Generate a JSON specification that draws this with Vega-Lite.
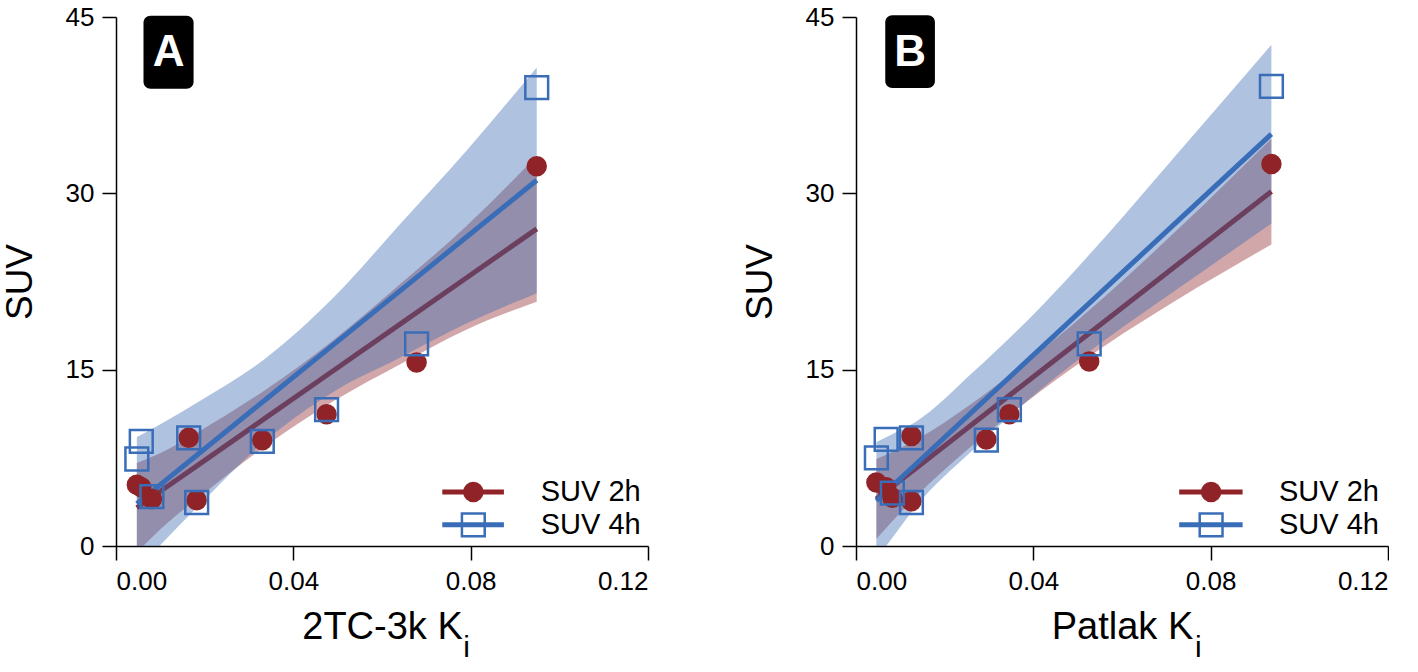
{
  "$schema": "https://vega.github.io/schema/vega-lite/v6.json",
  "background": "white",
  "padding": {"left": 1, "top": 4, "right": 0, "bottom": 6},
  "spacing": 208,
  "bounds": "flush",
  "config": {
    "view": {"stroke": null},
    "font": "Liberation Sans",
    "axis": {"grid": false, "domainColor": "#000", "domainWidth": 1.5, "tickColor": "#000", "tickWidth": 1.5, "tickSize": 14, "labelFontSize": 26, "labelColor": "#000", "labelFont": "Liberation Sans", "titleFont": "Liberation Sans", "titleFontWeight": "normal", "titleColor": "#000", "labelPadding": 8},
    "axisY": {"titlePadding": 26, "titleFontSize": 37},
    "axisX": {"titlePadding": 14, "titleFontSize": 38}
  },
  "datasets": {
    "points": [
      {"panel": "A", "series": "SUV 2h", "ki": 0.0047, "suv": 5.2},
      {"panel": "A", "series": "SUV 2h", "ki": 0.0057, "suv": 5.0},
      {"panel": "A", "series": "SUV 2h", "ki": 0.0081, "suv": 4.0},
      {"panel": "A", "series": "SUV 2h", "ki": 0.0164, "suv": 9.2},
      {"panel": "A", "series": "SUV 2h", "ki": 0.0182, "suv": 3.9},
      {"panel": "A", "series": "SUV 2h", "ki": 0.0330, "suv": 9.0},
      {"panel": "A", "series": "SUV 2h", "ki": 0.0475, "suv": 11.2},
      {"panel": "A", "series": "SUV 2h", "ki": 0.0678, "suv": 15.6},
      {"panel": "A", "series": "SUV 2h", "ki": 0.0949, "suv": 32.3},
      {"panel": "A", "series": "SUV 4h", "ki": 0.0047, "suv": 7.4},
      {"panel": "A", "series": "SUV 4h", "ki": 0.0057, "suv": 8.9},
      {"panel": "A", "series": "SUV 4h", "ki": 0.0081, "suv": 4.2},
      {"panel": "A", "series": "SUV 4h", "ki": 0.0164, "suv": 9.2},
      {"panel": "A", "series": "SUV 4h", "ki": 0.0182, "suv": 3.7},
      {"panel": "A", "series": "SUV 4h", "ki": 0.0330, "suv": 8.9},
      {"panel": "A", "series": "SUV 4h", "ki": 0.0475, "suv": 11.6},
      {"panel": "A", "series": "SUV 4h", "ki": 0.0678, "suv": 17.2},
      {"panel": "A", "series": "SUV 4h", "ki": 0.0949, "suv": 39.0},
      {"panel": "B", "series": "SUV 2h", "ki": 0.0046, "suv": 5.4},
      {"panel": "B", "series": "SUV 2h", "ki": 0.0068, "suv": 5.0},
      {"panel": "B", "series": "SUV 2h", "ki": 0.0082, "suv": 4.1},
      {"panel": "B", "series": "SUV 2h", "ki": 0.0125, "suv": 9.35},
      {"panel": "B", "series": "SUV 2h", "ki": 0.0125, "suv": 3.8},
      {"panel": "B", "series": "SUV 2h", "ki": 0.0294, "suv": 9.07},
      {"panel": "B", "series": "SUV 2h", "ki": 0.0346, "suv": 11.2},
      {"panel": "B", "series": "SUV 2h", "ki": 0.0526, "suv": 15.7},
      {"panel": "B", "series": "SUV 2h", "ki": 0.0937, "suv": 32.5},
      {"panel": "B", "series": "SUV 4h", "ki": 0.0046, "suv": 7.5},
      {"panel": "B", "series": "SUV 4h", "ki": 0.0068, "suv": 9.07},
      {"panel": "B", "series": "SUV 4h", "ki": 0.0082, "suv": 4.5},
      {"panel": "B", "series": "SUV 4h", "ki": 0.0125, "suv": 9.2},
      {"panel": "B", "series": "SUV 4h", "ki": 0.0125, "suv": 3.7},
      {"panel": "B", "series": "SUV 4h", "ki": 0.0294, "suv": 9.0},
      {"panel": "B", "series": "SUV 4h", "ki": 0.0346, "suv": 11.6},
      {"panel": "B", "series": "SUV 4h", "ki": 0.0526, "suv": 17.2},
      {"panel": "B", "series": "SUV 4h", "ki": 0.0937, "suv": 39.1}
    ],
    "fits": [
      {"panel": "A", "series": "SUV 2h", "ki": 0.0047, "fit": 3.26, "lo": -0.54, "hi": 7.06},
      {"panel": "A", "series": "SUV 2h", "ki": 0.0105, "fit": 4.79, "lo": 1.59, "hi": 7.99},
      {"panel": "A", "series": "SUV 2h", "ki": 0.0189, "fit": 6.99, "lo": 4.19, "hi": 9.79},
      {"panel": "A", "series": "SUV 2h", "ki": 0.0339, "fit": 10.94, "lo": 8.54, "hi": 13.34},
      {"panel": "A", "series": "SUV 2h", "ki": 0.049, "fit": 14.91, "lo": 12.31, "hi": 17.51},
      {"panel": "A", "series": "SUV 2h", "ki": 0.064, "fit": 18.85, "lo": 15.45, "hi": 22.25},
      {"panel": "A", "series": "SUV 2h", "ki": 0.079, "fit": 22.8, "lo": 18.4, "hi": 27.2},
      {"panel": "A", "series": "SUV 2h", "ki": 0.0949, "fit": 26.98, "lo": 20.78, "hi": 33.18},
      {"panel": "A", "series": "SUV 4h", "ki": 0.0047, "fit": 3.6, "lo": -2.07, "hi": 9.27},
      {"panel": "A", "series": "SUV 4h", "ki": 0.0105, "fit": 5.37, "lo": 0.27, "hi": 10.47},
      {"panel": "A", "series": "SUV 4h", "ki": 0.0189, "fit": 7.93, "lo": 3.53, "hi": 12.33},
      {"panel": "A", "series": "SUV 4h", "ki": 0.0339, "fit": 12.51, "lo": 9.01, "hi": 16.01},
      {"panel": "A", "series": "SUV 4h", "ki": 0.049, "fit": 17.11, "lo": 13.11, "hi": 21.11},
      {"panel": "A", "series": "SUV 4h", "ki": 0.064, "fit": 21.68, "lo": 16.01, "hi": 27.35},
      {"panel": "A", "series": "SUV 4h", "ki": 0.079, "fit": 26.26, "lo": 18.92, "hi": 33.6},
      {"panel": "A", "series": "SUV 4h", "ki": 0.0949, "fit": 31.11, "lo": 21.51, "hi": 40.71},
      {"panel": "B", "series": "SUV 2h", "ki": 0.0046, "fit": 4.0, "lo": 0.6, "hi": 7.4},
      {"panel": "B", "series": "SUV 2h", "ki": 0.0095, "fit": 5.44, "lo": 2.64, "hi": 8.24},
      {"panel": "B", "series": "SUV 2h", "ki": 0.0136, "fit": 6.64, "lo": 4.24, "hi": 9.04},
      {"panel": "B", "series": "SUV 2h", "ki": 0.0263, "fit": 10.37, "lo": 8.57, "hi": 12.17},
      {"panel": "B", "series": "SUV 2h", "ki": 0.0414, "fit": 14.8, "lo": 13.1, "hi": 16.5},
      {"panel": "B", "series": "SUV 2h", "ki": 0.0564, "fit": 19.2, "lo": 17.1, "hi": 21.3},
      {"panel": "B", "series": "SUV 2h", "ki": 0.0729, "fit": 24.05, "lo": 21.05, "hi": 27.05},
      {"panel": "B", "series": "SUV 2h", "ki": 0.0937, "fit": 30.15, "lo": 25.65, "hi": 34.65},
      {"panel": "B", "series": "SUV 4h", "ki": 0.0046, "fit": 3.85, "lo": -1.15, "hi": 8.85},
      {"panel": "B", "series": "SUV 4h", "ki": 0.0095, "fit": 5.57, "lo": 1.37, "hi": 9.77},
      {"panel": "B", "series": "SUV 4h", "ki": 0.0136, "fit": 7.0, "lo": 3.4, "hi": 10.6},
      {"panel": "B", "series": "SUV 4h", "ki": 0.0263, "fit": 11.45, "lo": 8.15, "hi": 14.75},
      {"panel": "B", "series": "SUV 4h", "ki": 0.0414, "fit": 16.73, "lo": 13.23, "hi": 20.23},
      {"panel": "B", "series": "SUV 4h", "ki": 0.0564, "fit": 21.98, "lo": 17.58, "hi": 26.38},
      {"panel": "B", "series": "SUV 4h", "ki": 0.0729, "fit": 27.76, "lo": 21.96, "hi": 33.56},
      {"panel": "B", "series": "SUV 4h", "ki": 0.0937, "fit": 35.04, "lo": 27.44, "hi": 42.64}
    ],
    "legend": [
      {"panel": "A", "series": "SUV 2h", "x1": 0.0736, "x2": 0.0875, "xm": 0.0806, "xt": 0.0958, "y": 4.6},
      {"panel": "A", "series": "SUV 4h", "x1": 0.0736, "x2": 0.0875, "xm": 0.0806, "xt": 0.0958, "y": 1.8},
      {"panel": "B", "series": "SUV 2h", "x1": 0.0729, "x2": 0.0872, "xm": 0.0801, "xt": 0.0954, "y": 4.6},
      {"panel": "B", "series": "SUV 4h", "x1": 0.0729, "x2": 0.0872, "xm": 0.0801, "xt": 0.0954, "y": 1.8}
    ],
    "tags": [
      {"panel": "A", "x1": 0.0062, "x2": 0.0175, "xc": 0.01185, "y1": 38.9, "y2": 45.1, "yc": 41.9, "xs": 0.0791, "ys": -9.45, "sub": "i"},
      {"panel": "B", "x1": 0.0066, "x2": 0.0178, "xc": 0.0122, "y1": 38.95, "y2": 45.15, "yc": 41.95, "xs": 0.0772, "ys": -9.45, "sub": "i"}
    ]
  },
  "hconcat": [
    {
      "width": 532, "height": 529,
      "layer": [
        {"data": {"name": "fits"}, "transform": [{"filter": "datum.panel === 'A' && datum.series === 'SUV 2h'"}],
         "mark": {"type": "area", "color": "#8f2327", "opacity": 0.4, "clip": true, "interpolate": "monotone"},
         "encoding": {
           "x": {"field": "ki", "type": "quantitative", "scale": {"domain": [0, 0.12], "nice": false}, "axis": {"values": [0, 0.04, 0.08, 0.12], "format": ".2f"}, "title": "2TC-3k K "},
           "y": {"field": "lo", "type": "quantitative", "scale": {"domain": [0, 45], "nice": false}, "axis": {"values": [0, 15, 30, 45]}, "title": "SUV"},
           "y2": {"field": "hi"}}},
        {"data": {"name": "fits"}, "transform": [{"filter": "datum.panel === 'A' && datum.series === 'SUV 2h'"}],
         "mark": {"type": "line", "color": "#8f2327", "strokeWidth": 5},
         "encoding": {
           "x": {"field": "ki", "type": "quantitative", "title": "2TC-3k K "},
           "y": {"field": "fit", "type": "quantitative", "title": "SUV"}}},
        {"data": {"name": "fits"}, "transform": [{"filter": "datum.panel === 'A' && datum.series === 'SUV 4h'"}],
         "mark": {"type": "area", "color": "#3769b4", "opacity": 0.4, "clip": true, "interpolate": "monotone"},
         "encoding": {
           "x": {"field": "ki", "type": "quantitative", "title": "2TC-3k K "},
           "y": {"field": "lo", "type": "quantitative", "title": "SUV"},
           "y2": {"field": "hi"}}},
        {"data": {"name": "fits"}, "transform": [{"filter": "datum.panel === 'A' && datum.series === 'SUV 4h'"}],
         "mark": {"type": "line", "color": "#3a6db7", "strokeWidth": 5},
         "encoding": {
           "x": {"field": "ki", "type": "quantitative", "title": "2TC-3k K "},
           "y": {"field": "fit", "type": "quantitative", "title": "SUV"}}},
        {"data": {"name": "points"}, "transform": [{"filter": "datum.panel === 'A' && datum.series === 'SUV 2h'"}],
         "mark": {"type": "point", "shape": "circle", "filled": true, "color": "#8f2327", "opacity": 1, "size": 420},
         "encoding": {
           "x": {"field": "ki", "type": "quantitative", "title": "2TC-3k K "},
           "y": {"field": "suv", "type": "quantitative", "title": "SUV"}}},
        {"data": {"name": "points"}, "transform": [{"filter": "datum.panel === 'A' && datum.series === 'SUV 4h'"}],
         "mark": {"type": "point", "shape": "square", "filled": false, "color": "#3a6db7", "opacity": 1, "size": 520, "strokeWidth": 2.5},
         "encoding": {
           "x": {"field": "ki", "type": "quantitative", "title": "2TC-3k K "},
           "y": {"field": "suv", "type": "quantitative", "title": "SUV"}}},
        {"data": {"name": "legend"}, "transform": [{"filter": "datum.panel === 'A'"}],
         "mark": {"type": "rule", "strokeWidth": 5},
         "encoding": {
           "x": {"field": "x1", "type": "quantitative", "title": "2TC-3k K "},
           "x2": {"field": "x2"},
           "y": {"field": "y", "type": "quantitative", "title": "SUV"},
           "color": {"field": "series", "type": "nominal", "scale": {"domain": ["SUV 2h", "SUV 4h"], "range": ["#8f2327", "#3a6db7"]}, "legend": null}}},
        {"data": {"name": "legend"}, "transform": [{"filter": "datum.panel === 'A' && datum.series === 'SUV 2h'"}],
         "mark": {"type": "point", "shape": "circle", "filled": true, "color": "#8f2327", "opacity": 1, "size": 420},
         "encoding": {
           "x": {"field": "xm", "type": "quantitative", "title": "2TC-3k K "},
           "y": {"field": "y", "type": "quantitative", "title": "SUV"}}},
        {"data": {"name": "legend"}, "transform": [{"filter": "datum.panel === 'A' && datum.series === 'SUV 4h'"}],
         "mark": {"type": "point", "shape": "square", "filled": false, "color": "#3a6db7", "opacity": 1, "size": 520, "strokeWidth": 2.5},
         "encoding": {
           "x": {"field": "xm", "type": "quantitative", "title": "2TC-3k K "},
           "y": {"field": "y", "type": "quantitative", "title": "SUV"}}},
        {"data": {"name": "legend"}, "transform": [{"filter": "datum.panel === 'A'"}],
         "mark": {"type": "text", "align": "left", "baseline": "middle", "fontSize": 29, "font": "Liberation Sans", "color": "#000"},
         "encoding": {
           "x": {"field": "xt", "type": "quantitative", "title": "2TC-3k K "},
           "y": {"field": "y", "type": "quantitative", "title": "SUV"},
           "text": {"field": "series"}}},
        {"data": {"name": "tags"}, "transform": [{"filter": "datum.panel === 'A'"}],
         "mark": {"type": "rect", "color": "#000", "cornerRadius": 7},
         "encoding": {
           "x": {"field": "x1", "type": "quantitative", "title": "2TC-3k K "},
           "x2": {"field": "x2"},
           "y": {"field": "y1", "type": "quantitative", "title": "SUV"},
           "y2": {"field": "y2"}}},
        {"data": {"name": "tags"}, "transform": [{"filter": "datum.panel === 'A'"}],
         "mark": {"type": "text", "align": "center", "baseline": "middle", "fontSize": 44, "fontWeight": "bold", "font": "Liberation Sans", "color": "#fff"},
         "encoding": {
           "x": {"field": "xc", "type": "quantitative", "title": "2TC-3k K "},
           "y": {"field": "yc", "type": "quantitative", "title": "SUV"},
           "text": {"field": "panel"}}},
        {"data": {"name": "tags"}, "transform": [{"filter": "datum.panel === 'A'"}],
         "mark": {"type": "text", "align": "center", "baseline": "alphabetic", "fontSize": 30, "font": "Liberation Sans", "color": "#000"},
         "encoding": {
           "x": {"field": "xs", "type": "quantitative", "title": "2TC-3k K "},
           "y": {"field": "ys", "type": "quantitative", "title": "SUV"},
           "text": {"field": "sub"}}}
      ]
    },
    {
      "width": 532, "height": 529,
      "layer": [
        {"data": {"name": "fits"}, "transform": [{"filter": "datum.panel === 'B' && datum.series === 'SUV 2h'"}],
         "mark": {"type": "area", "color": "#8f2327", "opacity": 0.4, "clip": true, "interpolate": "monotone"},
         "encoding": {
           "x": {"field": "ki", "type": "quantitative", "scale": {"domain": [0, 0.12], "nice": false}, "axis": {"values": [0, 0.04, 0.08, 0.12], "format": ".2f"}, "title": "Patlak K "},
           "y": {"field": "lo", "type": "quantitative", "scale": {"domain": [0, 45], "nice": false}, "axis": {"values": [0, 15, 30, 45]}, "title": "SUV"},
           "y2": {"field": "hi"}}},
        {"data": {"name": "fits"}, "transform": [{"filter": "datum.panel === 'B' && datum.series === 'SUV 2h'"}],
         "mark": {"type": "line", "color": "#8f2327", "strokeWidth": 5},
         "encoding": {
           "x": {"field": "ki", "type": "quantitative", "title": "Patlak K "},
           "y": {"field": "fit", "type": "quantitative", "title": "SUV"}}},
        {"data": {"name": "fits"}, "transform": [{"filter": "datum.panel === 'B' && datum.series === 'SUV 4h'"}],
         "mark": {"type": "area", "color": "#3769b4", "opacity": 0.4, "clip": true, "interpolate": "monotone"},
         "encoding": {
           "x": {"field": "ki", "type": "quantitative", "title": "Patlak K "},
           "y": {"field": "lo", "type": "quantitative", "title": "SUV"},
           "y2": {"field": "hi"}}},
        {"data": {"name": "fits"}, "transform": [{"filter": "datum.panel === 'B' && datum.series === 'SUV 4h'"}],
         "mark": {"type": "line", "color": "#3a6db7", "strokeWidth": 5},
         "encoding": {
           "x": {"field": "ki", "type": "quantitative", "title": "Patlak K "},
           "y": {"field": "fit", "type": "quantitative", "title": "SUV"}}},
        {"data": {"name": "points"}, "transform": [{"filter": "datum.panel === 'B' && datum.series === 'SUV 2h'"}],
         "mark": {"type": "point", "shape": "circle", "filled": true, "color": "#8f2327", "opacity": 1, "size": 420},
         "encoding": {
           "x": {"field": "ki", "type": "quantitative", "title": "Patlak K "},
           "y": {"field": "suv", "type": "quantitative", "title": "SUV"}}},
        {"data": {"name": "points"}, "transform": [{"filter": "datum.panel === 'B' && datum.series === 'SUV 4h'"}],
         "mark": {"type": "point", "shape": "square", "filled": false, "color": "#3a6db7", "opacity": 1, "size": 520, "strokeWidth": 2.5},
         "encoding": {
           "x": {"field": "ki", "type": "quantitative", "title": "Patlak K "},
           "y": {"field": "suv", "type": "quantitative", "title": "SUV"}}},
        {"data": {"name": "legend"}, "transform": [{"filter": "datum.panel === 'B'"}],
         "mark": {"type": "rule", "strokeWidth": 5},
         "encoding": {
           "x": {"field": "x1", "type": "quantitative", "title": "Patlak K "},
           "x2": {"field": "x2"},
           "y": {"field": "y", "type": "quantitative", "title": "SUV"},
           "color": {"field": "series", "type": "nominal", "scale": {"domain": ["SUV 2h", "SUV 4h"], "range": ["#8f2327", "#3a6db7"]}, "legend": null}}},
        {"data": {"name": "legend"}, "transform": [{"filter": "datum.panel === 'B' && datum.series === 'SUV 2h'"}],
         "mark": {"type": "point", "shape": "circle", "filled": true, "color": "#8f2327", "opacity": 1, "size": 420},
         "encoding": {
           "x": {"field": "xm", "type": "quantitative", "title": "Patlak K "},
           "y": {"field": "y", "type": "quantitative", "title": "SUV"}}},
        {"data": {"name": "legend"}, "transform": [{"filter": "datum.panel === 'B' && datum.series === 'SUV 4h'"}],
         "mark": {"type": "point", "shape": "square", "filled": false, "color": "#3a6db7", "opacity": 1, "size": 520, "strokeWidth": 2.5},
         "encoding": {
           "x": {"field": "xm", "type": "quantitative", "title": "Patlak K "},
           "y": {"field": "y", "type": "quantitative", "title": "SUV"}}},
        {"data": {"name": "legend"}, "transform": [{"filter": "datum.panel === 'B'"}],
         "mark": {"type": "text", "align": "left", "baseline": "middle", "fontSize": 29, "font": "Liberation Sans", "color": "#000"},
         "encoding": {
           "x": {"field": "xt", "type": "quantitative", "title": "Patlak K "},
           "y": {"field": "y", "type": "quantitative", "title": "SUV"},
           "text": {"field": "series"}}},
        {"data": {"name": "tags"}, "transform": [{"filter": "datum.panel === 'B'"}],
         "mark": {"type": "rect", "color": "#000", "cornerRadius": 7},
         "encoding": {
           "x": {"field": "x1", "type": "quantitative", "title": "Patlak K "},
           "x2": {"field": "x2"},
           "y": {"field": "y1", "type": "quantitative", "title": "SUV"},
           "y2": {"field": "y2"}}},
        {"data": {"name": "tags"}, "transform": [{"filter": "datum.panel === 'B'"}],
         "mark": {"type": "text", "align": "center", "baseline": "middle", "fontSize": 44, "fontWeight": "bold", "font": "Liberation Sans", "color": "#fff"},
         "encoding": {
           "x": {"field": "xc", "type": "quantitative", "title": "Patlak K "},
           "y": {"field": "yc", "type": "quantitative", "title": "SUV"},
           "text": {"field": "panel"}}},
        {"data": {"name": "tags"}, "transform": [{"filter": "datum.panel === 'B'"}],
         "mark": {"type": "text", "align": "center", "baseline": "alphabetic", "fontSize": 30, "font": "Liberation Sans", "color": "#000"},
         "encoding": {
           "x": {"field": "xs", "type": "quantitative", "title": "Patlak K "},
           "y": {"field": "ys", "type": "quantitative", "title": "SUV"},
           "text": {"field": "sub"}}}
      ]
    }
  ]
}
